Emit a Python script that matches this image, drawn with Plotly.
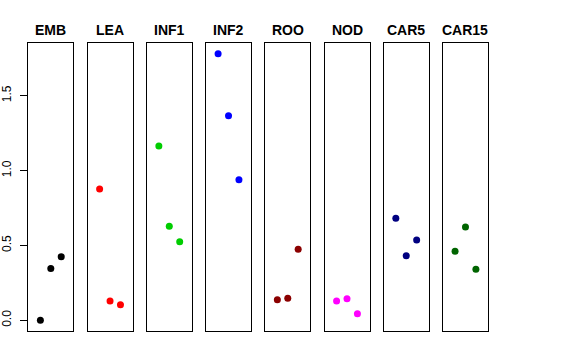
import plotly.graph_objects as go

groups = ["EMB", "LEA", "INF1", "INF2", "ROO", "NOD", "CAR5", "CAR15"]
emb = [0.00, 0.347, 0.425]
lea = [0.877, 0.129, 0.104]
inf1 = [1.164, 0.628, 0.525]
inf2 = [1.781, 1.367, 0.939]
roo = [0.138, 0.147, 0.474]
nod = [0.129, 0.144, 0.044]
car5 = [0.681, 0.432, 0.536]
car15 = [0.461, 0.623, 0.341]
series = [emb, lea, inf1, inf2, roo, nod, car5, car15]
colors = ["#000000", "#FF0000", "#00CD00", "#0000FF", "#8B0000", "#FF00FF", "#000080", "#006400"]
xpos = [1, 2, 3]
yticks = [0.0, 0.5, 1.0, 1.5]
yticklabels = ["0.0", "0.5", "1.0", "1.5"]

W, H = 576, 360
left0, step, pw = 28.3, 59.24, 45.0
top, bottom = 43.0, 331.0
title_y = 30.0
ymin = min(min(s) for s in series)
ymax = max(max(s) for s in series)
pad = 0.04 * (ymax - ymin)
yrange = [ymin - pad, ymax + pad]
xrange_ = [0 - 0.04 * 4, 4 + 0.04 * 4]

fig = go.Figure()
layout = dict(
    width=W, height=H, margin=dict(l=0, r=0, t=0, b=0, autoexpand=False),
    plot_bgcolor="white", paper_bgcolor="white", showlegend=False,
    font=dict(family="Liberation Sans, Arial, sans-serif", color="black"),
)
annotations = []
for i, (g, vals, c) in enumerate(zip(groups, series, colors)):
    n = "" if i == 0 else str(i + 1)
    fig.add_trace(go.Scatter(
        x=xpos, y=vals, mode="markers",
        marker=dict(color=c, size=7, line=dict(width=0)),
        xaxis="x" + n, yaxis="y" + n, hoverinfo="y",
    ))
    x0 = (left0 + i * step) / W
    x1 = (left0 + i * step + pw) / W
    layout["xaxis" + n] = dict(
        domain=[x0, x1], range=xrange_, anchor="y" + n,
        showgrid=False, zeroline=False, showticklabels=False, ticks="",
        showline=True, mirror=True, linecolor="black", linewidth=1,
    )
    ya = dict(
        domain=[(H - bottom) / H, (H - top) / H], range=yrange, anchor="x" + n,
        showgrid=False, zeroline=False,
        showline=True, mirror=True, linecolor="black", linewidth=1,
    )
    if i == 0:
        ya.update(tickmode="array", tickvals=yticks, ticktext=yticklabels,
                  ticks="outside", ticklen=7, tickcolor="black", tickwidth=1,
                  tickangle=-90, tickfont=dict(size=12, color="black"),
                  ticklabelstandoff=5)
    else:
        ya.update(showticklabels=False, ticks="")
    layout["yaxis" + n] = ya
    annotations.append(dict(
        x=(x0 + x1) / 2, y=(H - title_y) / H, xref="paper", yref="paper",
        text="<b>" + g + "</b>", showarrow=False,
        xanchor="center", yanchor="middle",
        font=dict(size=14, color="black"),
    ))
layout["annotations"] = annotations
fig.update_layout(**layout)
fig.write_html("out.html", config={"displayModeBar": False},
               post_script="document.body.style.margin='0px';")
